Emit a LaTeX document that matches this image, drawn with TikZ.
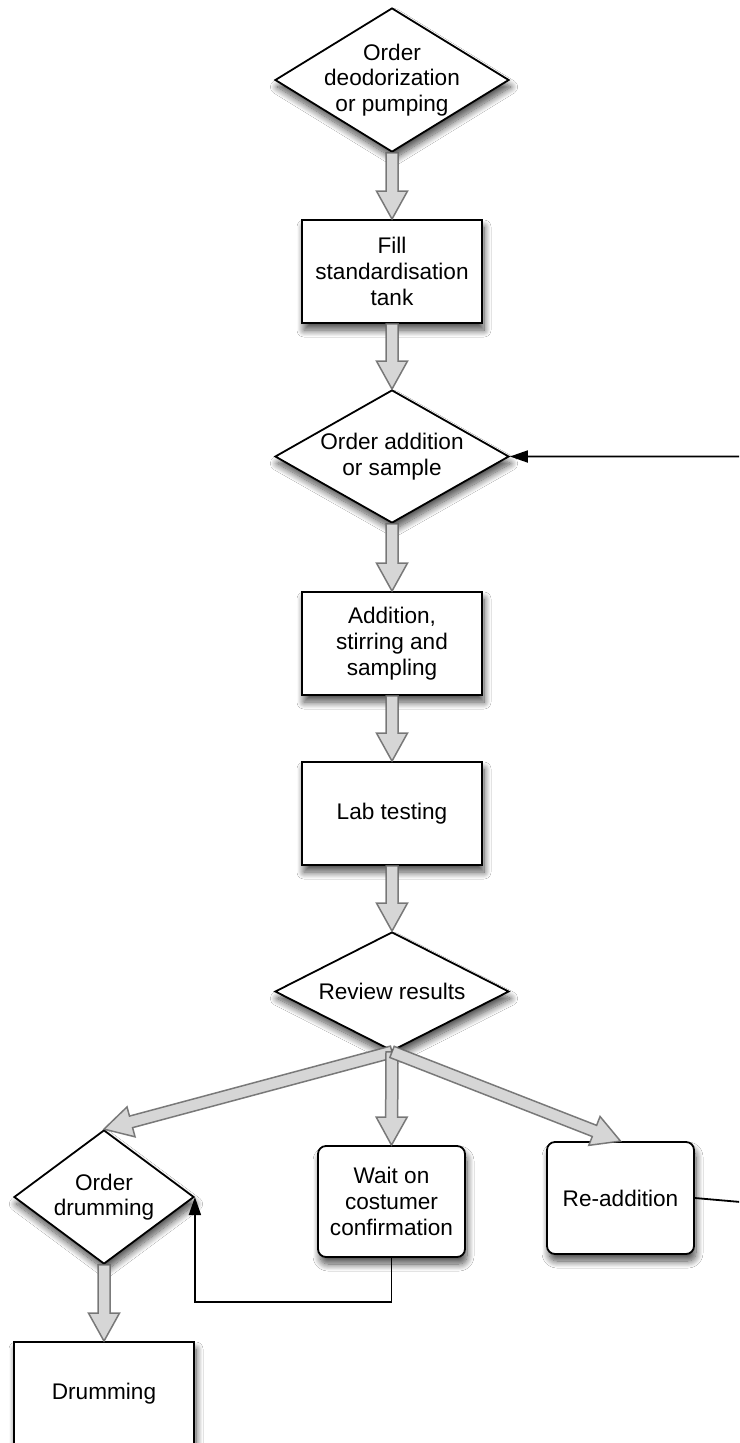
\documentclass[tikz,border=0pt]{standalone}
\usepackage{fontspec}
\setmainfont{Liberation Sans}
\usetikzlibrary{shapes.geometric,calc,arrows.meta,shadows.blur}

\tikzset{
  every node/.style={font=\fontsize{22.6}{25.7}\selectfont, align=center},
  boxshadow/.style={blur shadow={shadow xshift=2pt, shadow yshift=-7pt,
      shadow blur radius=7pt, shadow blur steps=14, shadow opacity=70}},
  stepbox/.style={draw, line width=1.8pt, fill=white, minimum width=180pt,
      minimum height=103pt, inner sep=0pt, boxshadow},
  roundbox/.style={stepbox, rounded corners=8pt, minimum width=147pt},
  decision/.style={draw, diamond, line width=1.8pt, fill=white, inner sep=0pt, boxshadow},
  conn/.style={draw, line width=1.8pt, -{Triangle[length=18pt,width=12pt]}},
  fatarrow/.style={draw=gray!80!black, draw opacity=0.85, fill=gray!32,
      line width=1.5pt, line join=miter},
}

% wide hollow arrow from #1 to #2
\newcommand\fatarrow[2]{%
  \coordinate (fa-s) at (#1);
  \coordinate (fa-e) at (#2);
  \coordinate (fa-h) at ($(fa-e)!28pt!(fa-s)$);
  \path[fatarrow] ($(fa-s)!6pt!90:(fa-e)$) -- ($(fa-h)!6pt!-90:(fa-s)$)
    -- ($(fa-h)!15.5pt!-90:(fa-s)$) -- (fa-e) -- ($(fa-h)!15.5pt!90:(fa-s)$)
    -- ($(fa-h)!6pt!90:(fa-s)$) -- ($(fa-s)!6pt!-90:(fa-e)$) -- cycle;
}

\begin{document}
\begin{tikzpicture}[x=1pt, y=-1pt]
  \useasboundingbox (0,0) rectangle (739,1443);
  \clip (0,0) rectangle (739,1443);
  \fill[white] (0,0) rectangle (739,1443);

  % main column
  \node[decision, aspect=1.625, inner sep=-6pt, minimum width=234pt, minimum height=144pt]
    (d1) at (392,80) {Order\\deodorization\\or pumping};
  \node[stepbox] (fill) at (392,271.5) {Fill\\standardisation\\tank};
  \node[decision, aspect=1.76, minimum width=234pt, minimum height=133pt]
    (d2) at (392,456.5) {Order addition\\or sample};
  \node[stepbox] (add) at (392,643.5) {Addition,\\stirring and\\sampling};
  \node[stepbox] (lab) at (392,813.5) {Lab testing};
  \node[decision, aspect=1.97, minimum width=234pt, minimum height=119pt]
    (rev) at (392,991.5) {Review results};

  % branches
  \node[decision, aspect=1.34, minimum width=180pt, minimum height=134pt]
    (odrum) at (104,1197) {Order\\drumming};
  \node[roundbox, minimum height=111pt] (wait) at (391.5,1201.5) {Wait on\\costumer\\confirmation};
  \node[roundbox, minimum height=112pt] (readd) at (620.5,1198) {Re-addition};
  \node[stepbox, minimum height=104pt] (drum) at (104,1394) {Drumming};

  % flow arrows
  \fatarrow{d1.south}{fill.north}
  \fatarrow{fill.south}{d2.north}
  \fatarrow{d2.south}{add.north}
  \fatarrow{add.south}{lab.north}
  \fatarrow{lab.south}{rev.north}
  \fatarrow{rev.south}{odrum.north}
  \fatarrow{rev.south}{wait.north}
  \fatarrow{rev.south}{readd.north}
  \fatarrow{odrum.south}{drum.north}

  % feedback connectors
  \draw[conn] (wait.south) -- ++(0,44) -| (odrum.east);
  \coordinate (loop) at (775,1205);
  \draw[conn] (readd.east) -- (loop) |- (d2.east);
\end{tikzpicture}
\end{document}
